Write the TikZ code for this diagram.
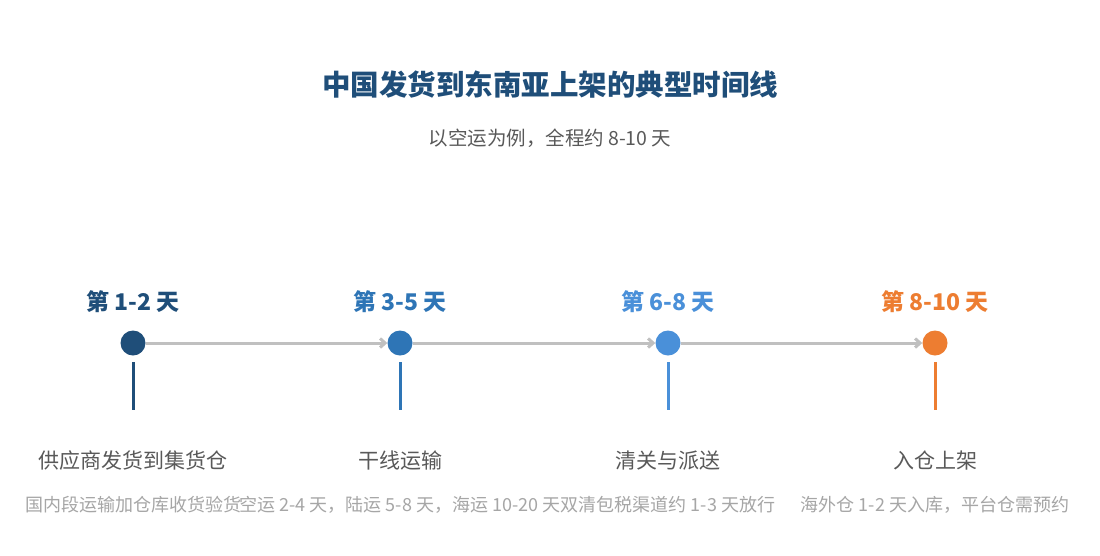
\documentclass[tikz,border=0pt]{standalone}
\usepackage{fontspec}
\setmainfont{Noto Sans CJK SC}
\usetikzlibrary{arrows.meta}
\definecolor{cA}{HTML}{1F4E79}
\definecolor{cB}{HTML}{2E75B6}
\definecolor{cC}{HTML}{4A90D9}
\definecolor{cD}{HTML}{ED7D31}
\definecolor{tx}{HTML}{595959}
\definecolor{ds}{HTML}{A6A6A6}
\definecolor{ln}{HTML}{C0C0C0}
\begin{document}
\begin{tikzpicture}[x=1pt,y=-1pt,
  dot/.style={circle,fill=#1,minimum size=25pt,inner sep=0pt},
  day/.style={text=#1,font=\fontsize{23}{25}\selectfont\bfseries},
  steplbl/.style={text=tx,font=\fontsize{21}{23}\selectfont},
  desclbl/.style={text=ds,font=\fontsize{18}{20}\selectfont},
  stem/.style={draw=#1,line width=3pt},
  conn/.style={draw=ln,line width=3pt,-{Straight Barb[length=5pt,width=9pt]}}]
\useasboundingbox[fill=white] (0,0) rectangle (1100,555);
\node[text=cA,font=\fontsize{28.5}{30}\selectfont\bfseries] (title) at (550,85) {中国发货到东南亚上架的典型时间线};
\node[text=tx,font=\fontsize{19.5}{21}\selectfont] (sub) at (550,138) {以空运为例，全程约 8-10 天};
\foreach \n/\x/\c/\d/\s/\t in {
 a/133/cA/第 1-2 天/供应商发货到集货仓/国内段运输加仓库收货验货,
 b/400/cB/第 3-5 天/干线运输/{空运 2-4 天，陆运 5-8 天，海运 10-20 天},
 c/668/cC/第 6-8 天/清关与派送/双清包税渠道约 1-3 天放行,
 d/935/cD/第 8-10 天/入仓上架/{海外仓 1-2 天入库，平台仓需预约}}{
  \node[dot=\c] (\n) at (\x,343) {};
  \node[day=\c] (\n day) at (\x,302) {\d};
  \coordinate (\n top) at (\x,362);
  \coordinate (\n bot) at (\x,410);
  \draw[stem=\c] (\n top) -- (\n bot);
  \node[steplbl] (\n step) at (\x,461) {\s};
  \node[desclbl] (\n desc) at (\x,505) {\t};
}
\draw[conn] (a) -- (b);
\draw[conn] (b) -- (c);
\draw[conn] (c) -- (d);
\end{tikzpicture}
\end{document}
